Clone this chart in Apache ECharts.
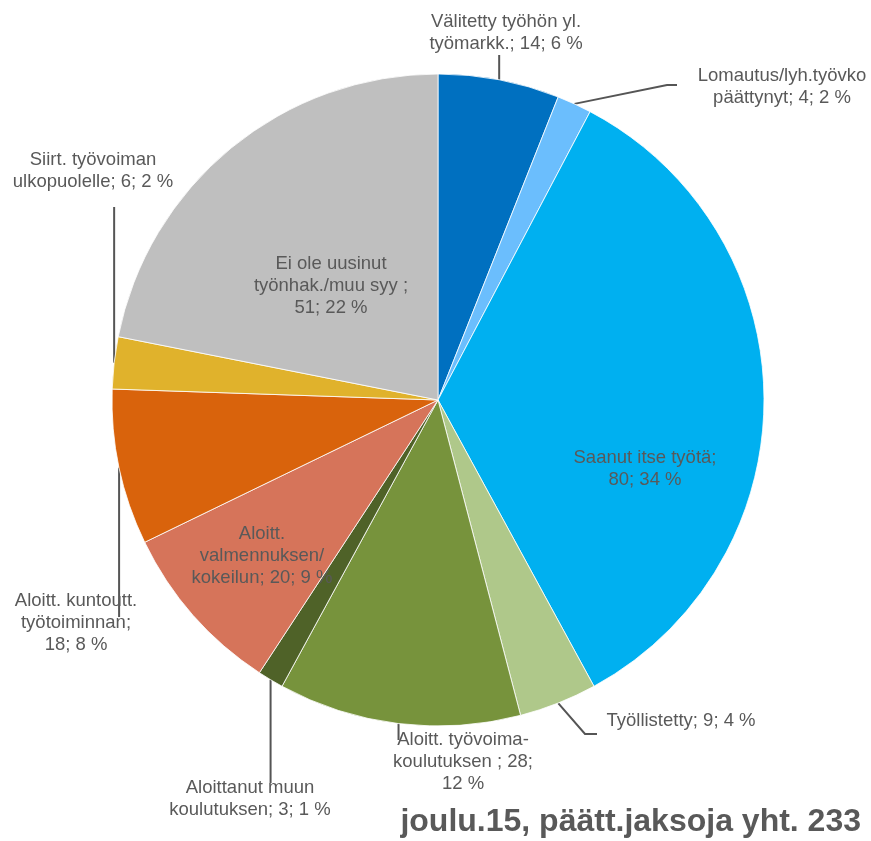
<!DOCTYPE html>
<html>
<head>
<meta charset="utf-8">
<script src="https://cdn.jsdelivr.net/npm/echarts@6/dist/echarts.min.js"></script>
<style>
html,body{margin:0;padding:0;background:#fff;}
#chart{width:871px;height:841px;}
</style>
</head>
<body>
<div id="chart"></div>
<script>
// ---- data ----
const categories = [
  'Välitetty työhön yl. työmarkk.',
  'Lomautus/lyh.työvko päättynyt',
  'Saanut itse työtä',
  'Työllistetty',
  'Aloitt. työvoima-koulutuksen',
  'Aloittanut muun koulutuksen',
  'Aloitt. valmennuksen/kokeilun',
  'Aloitt. kuntoutt. työtoiminnan',
  'Siirt. työvoiman ulkopuolelle',
  'Ei ole uusinut työnhak./muu syy'
];
const values = [14, 4, 80, 9, 28, 3, 20, 18, 6, 51];
const percents = [6, 2, 34, 4, 12, 1, 9, 8, 2, 22];
const labelTexts = [
  'Välitetty työhön yl.\ntyömarkk.; 14; 6 %',
  'Lomautus/lyh.työvko\npäättynyt; 4; 2 %',
  'Saanut itse työtä;\n80; 34 %',
  'Työllistetty; 9; 4 %',
  'Aloitt. työvoima-\nkoulutuksen ; 28;\n12 %',
  'Aloittanut muun\nkoulutuksen; 3; 1 %',
  'Aloitt.\nvalmennuksen/\nkokeilun; 20; 9 %',
  'Aloitt. kuntoutt.\ntyötoiminnan;\n18; 8 %',
  'Siirt. työvoiman\nulkopuolelle; 6; 2 %',
  'Ei ole uusinut\ntyönhak./muu syy ;\n51; 22 %'
];
const titleText = 'joulu.15, päätt.jaksoja yht. 233';

// ---- styles / layout ----
const colors = ['#0070C0', '#6BBEFD', '#00B0F0', '#AFC88A', '#77933C', '#4F6228', '#D6745A', '#D9630C', '#E0B22C', '#BFBFBF'];
const insideItems = [2, 6, 9];
const CX = 438, CY = 400, R = 326;
const labelCenters = [
  [506, 33], [782, 87], [645, 469], [681, 721], [463, 762],
  [250, 799], [262, 556], [76, 623], [93, 171], [331, 286]
];
// leader-line continuation after the slice edge point ('=' keeps the x of the edge point)
const leaderPaths = [
  [['=', 55]],
  [[667, 85], [677, 85]],
  null,
  [[585, 734], [597, 734]],
  [['=', 740]],
  [['=', 783]],
  null,
  [['=', 617]],
  [['=', 207]],
  null
];

const total = values.reduce((a, b) => a + b, 0);
function edgePoint(i) {
  let cum = 0;
  for (let k = 0; k < i; k++) cum += values[k];
  const mid = (cum + values[i] / 2) / total * 2 * Math.PI;
  return [CX + R * Math.sin(mid), CY - R * Math.cos(mid)];
}

const textColor = '#595959';
const fontFamily = "'Liberation Sans', Arial, sans-serif";

const data = values.map((v, i) => ({
  name: categories[i],
  value: v,
  itemStyle: { color: colors[i] },
  label: { position: insideItems.includes(i) ? 'inside' : 'outside' },
  labelLine: { show: !insideItems.includes(i) }
}));

const chart = echarts.init(document.getElementById('chart'), null, { renderer: 'canvas' });
chart.setOption({
  animation: false,
  backgroundColor: '#ffffff',
  title: {
    text: titleText,
    right: 5,
    top: 799,
    textStyle: { fontFamily: fontFamily, fontSize: 32, fontWeight: 'bold', color: textColor, lineHeight: 36 }
  },
  series: [{
    type: 'pie',
    center: [CX, CY],
    radius: [0, R],
    startAngle: 90,
    clockwise: true,
    avoidLabelOverlap: false,
    itemStyle: { borderColor: '#ffffff', borderWidth: 0.8 },
    emphasis: { disabled: true },
    data: data,
    label: {
      show: true,
      formatter: p => labelTexts[p.dataIndex],
      color: textColor,
      fontFamily: fontFamily,
      fontSize: 18.5,
      lineHeight: 22,
      align: 'center',
      width: 260,
      overflow: 'none'
    },
    labelLine: {
      show: true,
      lineStyle: { color: '#555555', width: 2 }
    },
    labelLayout: function (params) {
      const i = params.dataIndex;
      const out = {
        x: labelCenters[i][0],
        y: labelCenters[i][1],
        align: 'center',
        verticalAlign: 'middle'
      };
      const path = leaderPaths[i];
      if (path) {
        const p0 = edgePoint(i);
        const pts = [p0];
        path.forEach(pt => pts.push([pt[0] === '=' ? p0[0] : pt[0], pt[1]]));
        while (pts.length < 3) pts.push(pts[pts.length - 1].slice());
        out.labelLinePoints = pts;
      }
      return out;
    }
  }]
});
</script>
</body>
</html>
